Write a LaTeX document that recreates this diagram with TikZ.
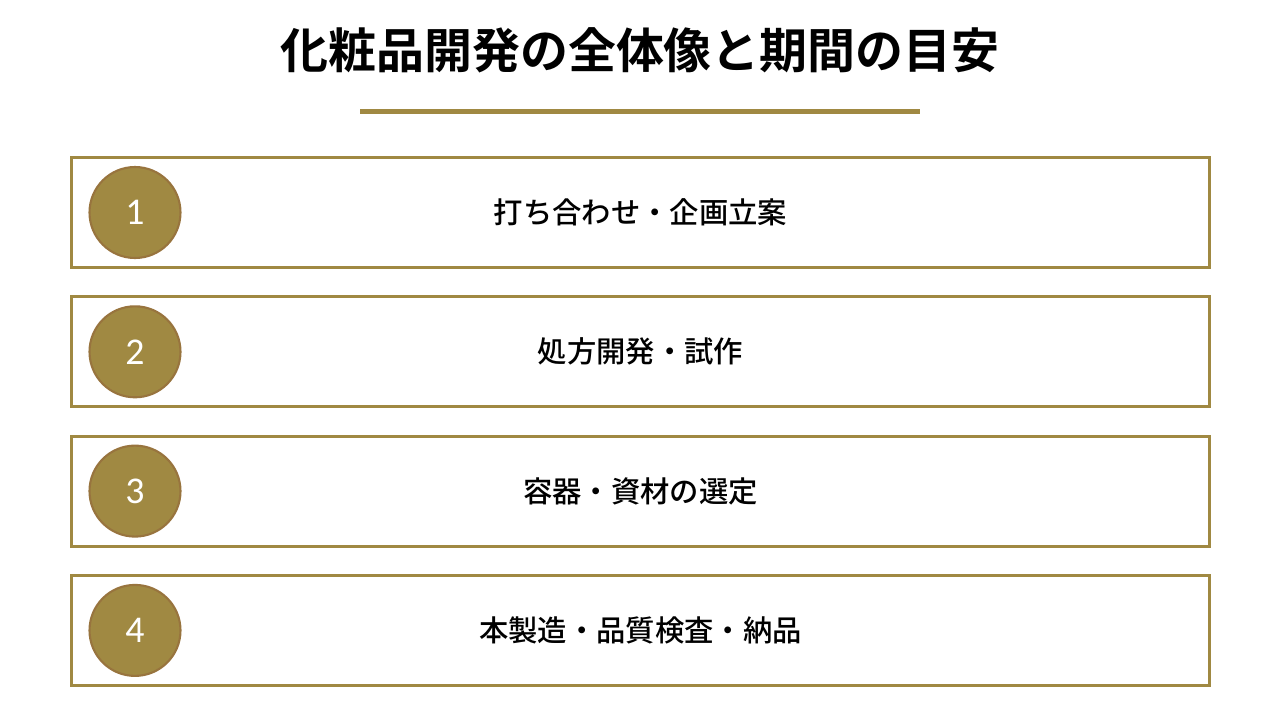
\documentclass[tikz,border=0pt]{standalone}
\usepackage{fontspec}
\setmainfont{Noto Sans CJK JP}[BoldFont={Noto Sans CJK JP Bold}]
\newfontfamily\medfont{Noto Sans CJK JP Medium}
\newfontfamily\numfont{Carlito}
\definecolor{gold}{RGB}{160,137,66}
\definecolor{goldedge}{RGB}{152,116,62}
\tikzset{
  stepbox/.style={draw=gold, line width=3pt*0.567, fill=white, minimum width=22.78cm, minimum height=2.2cm, inner sep=0pt},
  stepnum/.style={circle, fill=gold, draw=goldedge, line width=1.2pt, minimum size=1.82cm, inner sep=0pt, text=white, font=\numfont\fontsize{21.5}{24}\selectfont},
  steptext/.style={font=\medfont\fontsize{16.7}{20}\selectfont}
}
\begin{document}
\begin{tikzpicture}[x=0.02cm, y=-0.02cm]
  \fill[white] (0,0) rectangle (1280,720);
  \node[font=\bfseries\fontsize{27.3}{32}\selectfont] (title) at (640,50) {化粧品開発の全体像と期間の目安};
  \fill[gold] (360,108.5) rectangle (920,113.5);
  \foreach \i/\txt in {1/打ち合わせ・企画立案, 2/処方開発・試作, 3/容器・資材の選定, 4/本製造・品質検査・納品} {
    \node[stepbox] (box\i) at (640.5, {212.5 + 139.3*(\i-1)}) {};
    \node[stepnum] (num\i) at (135, {212.5 + 139.3*(\i-1)}) {\i};
    \node[steptext] (lbl\i) at (box\i.center) {\txt};
  }
\end{tikzpicture}
\end{document}
